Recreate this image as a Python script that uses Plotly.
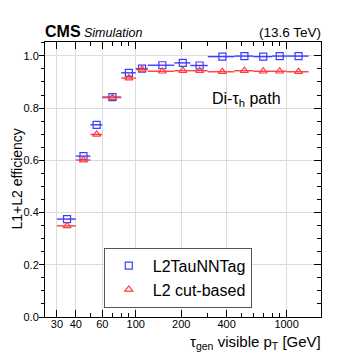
import plotly.graph_objects as go

# bin edges in visible tau pT [GeV]
bin_lo = [30, 40, 50, 60, 80, 100, 120, 180, 230, 300, 450, 600, 800, 1000]
bin_hi = [40, 50, 60, 80, 100, 120, 180, 230, 300, 450, 600, 800, 1000, 1400]

eff_nn = [0.375, 0.616, 0.736, 0.842, 0.935, 0.951, 0.964, 0.973, 0.963,
          0.997, 0.999, 0.997, 0.999, 0.999]
eff_cut = [0.349, 0.601, 0.699, 0.840, 0.915, 0.948, 0.941, 0.943, 0.943,
           0.939, 0.943, 0.941, 0.941, 0.939]

x_major = [30, 40, 60, 100, 200, 400, 1000]
x_minor = [50, 70, 80, 90, 300, 500, 600, 700, 800, 900]
y_major = [0.0, 0.2, 0.4, 0.6, 0.8, 1.0]

centers = [(a + b) / 2 for a, b in zip(bin_lo, bin_hi)]
err_up = [b - c for b, c in zip(bin_hi, centers)]
err_dn = [c - a for a, c in zip(bin_lo, centers)]

FONT = "Liberation Sans, Arial, Helvetica, sans-serif"
BLUE = "#3c3cff"
RED = "#ff3c3c"

fig = go.Figure()
for name, eff, col, sym, sz in [("L2TauNNTag", eff_nn, BLUE, "square-open", 7),
                                ("L2 cut-based", eff_cut, RED, "triangle-up-open", 7)]:
    fig.add_trace(go.Scatter(
        x=centers, y=eff, mode="markers", name=name,
        marker=dict(symbol=sym, size=sz, color=col, line=dict(width=1.2, color=col)),
        error_x=dict(type="data", symmetric=False, array=err_up, arrayminus=err_dn,
                     width=0, thickness=1.4, color=col),
    ))

# page body has an 8px margin, so the figure is 349px and shifted
fig.update_layout(
    width=349, height=349,
    margin=dict(l=37, r=35.5, t=34, b=39.5),
    paper_bgcolor="white", plot_bgcolor="white",
    font=dict(family=FONT, size=11, color="black"),
    showlegend=True,
    legend=dict(x=0.213, y=0.252, xanchor="left", yanchor="top",
                font=dict(size=16), bordercolor="#555", borderwidth=1,
                bgcolor="white", itemwidth=38),
    xaxis=dict(type="log", range=[1.398, 3.228],
               tickvals=x_major, ticktext=[str(v) for v in x_major],
               ticks="inside", ticklen=7, tickcolor="black",
               showline=True, linecolor="black", linewidth=1, mirror="ticks",
               showgrid=True, gridcolor="#dcdcdc", gridwidth=1,
               zeroline=False, ticklabelstandoff=-3,
               minor=dict(tickvals=x_minor, ticks="inside", ticklen=4,
                          tickcolor="black", showgrid=False)),
    yaxis=dict(range=[0, 1.053],
               tickvals=y_major, ticktext=["0.0", "0.2", "0.4", "0.6", "0.8", "1.0"],
               ticks="outside", ticklen=5, tickcolor="black",
               showline=True, linecolor="black", linewidth=1, mirror=True,
               showgrid=True, gridcolor="#dcdcdc", gridwidth=1,
               zeroline=False, ticklabelstandoff=-2,
               minor=dict(dtick=0.05, ticks="outside", ticklen=3,
                          tickcolor="black", showgrid=False)),
    yaxis2=dict(overlaying="y", side="right", range=[0, 1.053],
                tickvals=y_major, showticklabels=False,
                ticks="inside", ticklen=7, tickcolor="black",
                showgrid=False, zeroline=False, showline=False,
                minor=dict(dtick=0.05, ticks="inside", ticklen=4, tickcolor="black")),
)

fig.add_trace(go.Scatter(x=[100], y=[0.5], yaxis="y2", mode="markers",
                         marker=dict(opacity=0), showlegend=False, hoverinfo="skip"))

fig.add_annotation(x=0, y=1, xref="paper", yref="paper", xanchor="left", yanchor="bottom",
                   xshift=-2, showarrow=False, align="left", text="<b>CMS</b>",
                   font=dict(size=16))
fig.add_annotation(x=0.1447, y=1, xref="paper", yref="paper", xanchor="left", yanchor="bottom",
                   xshift=-3, yshift=0.5, showarrow=False, align="left", text="<i>Simulation</i>",
                   font=dict(size=12.5))
fig.add_annotation(x=1, y=1, xref="paper", yref="paper", xanchor="right", yanchor="bottom",
                   xshift=2, showarrow=False, text="(13.6 TeV)", font=dict(size=13.5))
fig.add_annotation(x=0.862, y=0.79, xref="paper", yref="paper", xanchor="right", yanchor="middle",
                   showarrow=False, text="Di-τ<sub>h</sub> path", font=dict(size=16))
fig.add_annotation(x=1, y=0, xref="paper", yref="paper", xanchor="right", yanchor="top",
                   xshift=2, yshift=-14, showarrow=False,
                   text="τ<sub>gen</sub> visible p<sub>T</sub> [GeV]", font=dict(size=15))
fig.add_annotation(x=0, y=0.5, xref="paper", yref="paper", xanchor="center", yanchor="middle",
                   xshift=-29, showarrow=False, textangle=-90,
                   text="L1+L2 efficiency", font=dict(size=14))

fig.write_html("out.html")
